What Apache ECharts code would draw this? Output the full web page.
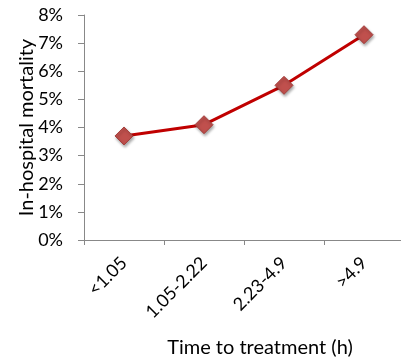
<!DOCTYPE html>
<html>
<head>
<meta charset="utf-8">
<script src="https://cdn.jsdelivr.net/npm/echarts@6/dist/echarts.min.js"></script>
<style>
  html, body { margin: 0; padding: 0; background: #ffffff; }
  #chart { width: 401px; height: 358px; }
</style>
</head>
<body>
<div id="chart"></div>
<script>
// Time-to-treatment groups and in-hospital mortality (%)
const categories = ['<1.05', '1.05-2.22', '2.23-4.9', '>4.9'];
const mortality = [3.7, 4.1, 5.5, 7.3];
const yTicks = [0, 1, 2, 3, 4, 5, 6, 7, 8];

const font = 'Lato, Open Sans, sans-serif';
const axisGray = '#888888';

const chart = echarts.init(document.getElementById('chart'), null, { renderer: 'canvas' });
chart.setOption({
  animation: false,
  grid: { left: 84, top: 15, right: -3, bottom: 118, containLabel: false, outerBoundsMode: 'none' },
  xAxis: {
    type: 'category',
    data: categories,
    boundaryGap: true,
    name: 'Time to treatment (h)',
    nameLocation: 'middle',
    nameGap: 98,
    nameTextStyle: { fontFamily: font, fontSize: 20, color: '#000', padding: [0, 0, 0, 32] },
    axisLine: { lineStyle: { color: axisGray, width: 1 } },
    axisTick: { show: true, alignWithLabel: false, length: 5, lineStyle: { color: axisGray } },
    axisLabel: { rotate: 45, fontFamily: font, fontSize: 18, color: '#000', margin: 20 }
  },
  yAxis: {
    type: 'value',
    min: yTicks[0],
    max: yTicks[yTicks.length - 1],
    interval: 1,
    name: 'In-hospital mortality',
    nameLocation: 'middle',
    nameGap: 47,
    nameMoveOverlap: false,
    nameTextStyle: { fontFamily: font, fontSize: 20, color: '#000' },
    axisLine: { show: true, lineStyle: { color: axisGray, width: 1 } },
    axisTick: { show: true, length: 6, lineStyle: { color: axisGray } },
    splitLine: { show: false },
    axisLabel: { fontFamily: font, fontSize: 18, color: '#000', margin: 21, formatter: v => v + '%' }
  },
  series: [{
    type: 'line',
    data: mortality,
    symbol: 'diamond',
    symbolSize: 18,
    lineStyle: { color: '#c00000', width: 3 },
    itemStyle: {
      color: '#c0504d',
      borderColor: '#a33e3b',
      borderWidth: 1,
      shadowColor: 'rgba(0,0,0,0.35)',
      shadowBlur: 3,
      shadowOffsetX: 1,
      shadowOffsetY: 2
    },
    z: 3
  }]
});
</script>
</body>
</html>
